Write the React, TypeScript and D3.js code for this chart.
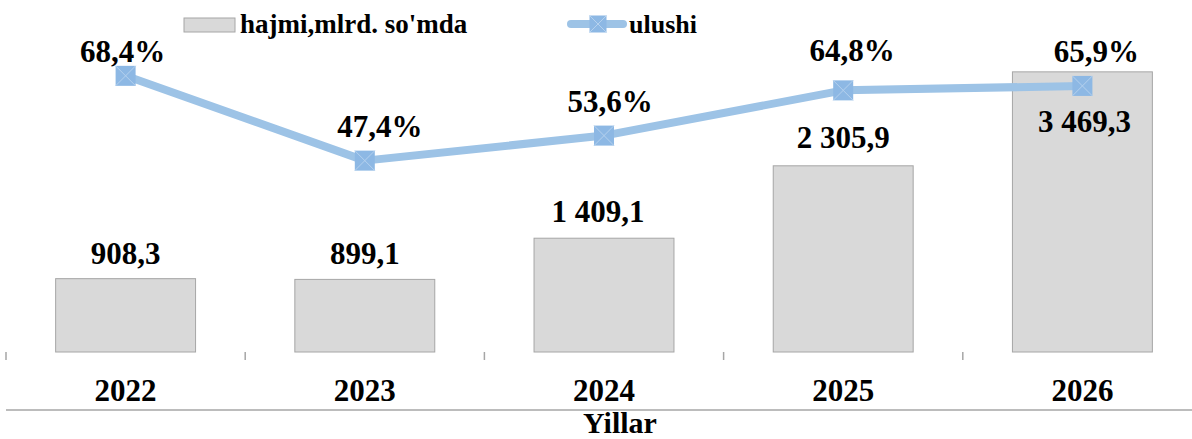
import React from "react";
import * as d3 from "d3";

const years = ["2022", "2023", "2024", "2025", "2026"];
const volume = [908.3, 899.1, 1409.1, 2305.9, 3469.3];
const share = [68.4, 47.4, 53.6, 64.8, 65.9];
const volumeLabels = ["908,3", "899,1", "1 409,1", "2 305,9", "3 469,3"];
const shareLabels = ["68,4%", "47,4%", "53,6%", "64,8%", "65,9%"];
const legendBar = "hajmi,mlrd. so'mda";
const legendLine = "ulushi";
const axisTitle = "Yillar";

// label layout tweaks (manually placed labels in the original)
const shareLabelDx = [-3, 15, 6, 9, 14];
const shareLabelDy = [-14, -24, -24, -29, -24];
const volumeLabelDx = [0, 0, -6, 0, 2];
const volumeLabelDy = [-15, -15, -16, -18, 60];

const W = 1192;
const H = 439;
const FONT = "'Liberation Serif', 'Times New Roman', serif";
const BAR_FILL = "#d9d9d9";
const BAR_STROKE = "#a6a6a6";
const LINE = "#9dc3e6";
const MARK = "#8db8e4";
const MARK_X = "#b5d1ee";

function Marker({ cx, cy, s }: { cx: number; cy: number; s: number }) {
  const h = s / 2;
  return (
    <g>
      <rect x={cx - h} y={cy - h} width={s} height={s} fill={MARK} />
      <line x1={cx - h} y1={cy - h} x2={cx + h} y2={cy + h} stroke={MARK_X} strokeWidth={1} />
      <line x1={cx + h} y1={cy - h} x2={cx - h} y2={cy + h} stroke={MARK_X} strokeWidth={1} />
    </g>
  );
}

export default function App() {
  const x = d3
    .scaleBand<string>()
    .domain(years)
    .range([6, 1202])
    .paddingInner(0.415)
    .paddingOuter(0.2075);
  const yBar = d3.scaleLinear().domain([0, 4000]).range([352, 29]);
  const yPct = d3.scaleLinear().domain([0, 80]).range([352, 29]);
  const step = x.step();
  const bw = x.bandwidth();
  const cx = (d: string) => (x(d) as number) + bw / 2;

  const linePath = d3
    .line<number>()
    .x((_, i) => cx(years[i]))
    .y((d) => yPct(d))(share) as string;

  const tickXs = d3.range(years.length + 1).map((i) => 6 + i * step);

  return (
    <div style={{ position: "absolute", left: 0, top: 0 }}>
      <svg width={W} height={H} style={{ display: "block" }} fontFamily={FONT}>
        <rect width={W} height={H} fill="#ffffff" />
        {/* bars */}
        {volume.map((v, i) => (
          <rect
            key={"b" + i}
            x={x(years[i])}
            y={yBar(v)}
            width={bw}
            height={yBar(0) - yBar(v)}
            fill={BAR_FILL}
            stroke={BAR_STROKE}
            strokeWidth={1}
          />
        ))}
        {/* ticks */}
        {tickXs.map((tx, i) => (
          <line key={"t" + i} x1={tx} x2={tx} y1={352} y2={360} stroke={BAR_STROKE} strokeWidth={1.5} />
        ))}
        {/* bottom line */}
        <line x1={6} x2={W} y1={410} y2={410} stroke={BAR_STROKE} strokeWidth={1.5} />
        {/* bar labels */}
        {volume.map((v, i) => (
          <text
            key={"vl" + i}
            x={cx(years[i]) + volumeLabelDx[i]}
            y={yBar(v) + volumeLabelDy[i]}
            textAnchor="middle"
            fontSize={31}
            fontWeight="bold"
            fill="#000"
          >
            {volumeLabels[i]}
          </text>
        ))}
        {/* line */}
        <path d={linePath} fill="none" stroke={LINE} strokeWidth={8} strokeLinejoin="round" />
        {share.map((v, i) => (
          <Marker key={"m" + i} cx={cx(years[i])} cy={yPct(v)} s={20} />
        ))}
        {share.map((v, i) => (
          <text
            key={"sl" + i}
            x={cx(years[i]) + shareLabelDx[i]}
            y={yPct(v) + shareLabelDy[i]}
            textAnchor="middle"
            fontSize={31}
            fontWeight="bold"
            fill="#000"
          >
            {shareLabels[i]}
          </text>
        ))}
        {/* category labels */}
        {years.map((d) => (
          <text key={"c" + d} x={cx(d)} y={401} textAnchor="middle" fontSize={31} fontWeight="bold" fill="#000">
            {d}
          </text>
        ))}
        <text x={620} y={433} textAnchor="middle" fontSize={30} fontWeight="bold" fill="#000">
          {axisTitle}
        </text>
        {/* legend */}
        <rect x={184} y={18} width={51} height={14} fill={BAR_FILL} stroke={BAR_STROKE} strokeWidth={1} />
        <text x={240} y={33} fontSize={27} fontWeight="bold" fill="#000">
          {legendBar}
        </text>
        <line x1={571} x2={623} y1={24} y2={24} stroke={LINE} strokeWidth={8} strokeLinecap="round" />
        <Marker cx={598} cy={24} s={17} />
        <text x={629} y={33} fontSize={26} fontWeight="bold" fill="#000">
          {legendLine}
        </text>
      </svg>
    </div>
  );
}
